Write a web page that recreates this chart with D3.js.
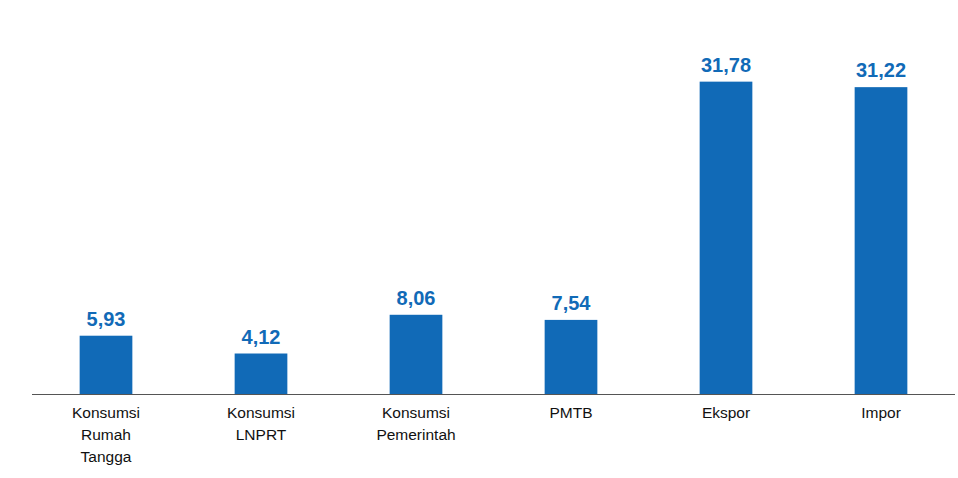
<!DOCTYPE html>
<html>
<head>
<meta charset="utf-8">
<script src="https://cdn.jsdelivr.net/npm/d3@7"></script>
<style>
	body { margin: 0; background: #fff; }
	svg { display: block; }
</style>
</head>
<body>
<svg id="chart"></svg>
<script>
// data
const categories = ['Konsumsi Rumah Tangga', 'Konsumsi LNPRT', 'Konsumsi Pemerintah', 'PMTB', 'Ekspor', 'Impor'];
const categoryLines = [['Konsumsi', 'Rumah', 'Tangga'], ['Konsumsi', 'LNPRT'], ['Konsumsi', 'Pemerintah'], ['PMTB'], ['Ekspor'], ['Impor']];
const values = [5.93, 4.12, 8.06, 7.54, 31.78, 31.22];

const width = 958;
const height = 478;
const blue = '#116ab7';

const svg = d3.select('#chart').attr('width', width).attr('height', height);

const x = d3.scaleBand()
	.domain(categories)
	.range([28.5, 958.5])
	.paddingInner(0.66)
	.paddingOuter(0.33);

const y = d3.scaleLinear()
	.domain([0, 35])
	.range([394, 50]);

// bars
svg.selectAll('rect.bar')
	.data(values)
	.enter()
	.append('rect')
	.attr('class', 'bar')
	.attr('x', (d, i) => x(categories[i]))
	.attr('y', d => y(d))
	.attr('width', x.bandwidth())
	.attr('height', d => y(0) - y(d))
	.attr('fill', blue);

// baseline
svg.append('line')
	.attr('x1', 32)
	.attr('x2', 955)
	.attr('y1', y(0) + 0.5)
	.attr('y2', y(0) + 0.5)
	.attr('stroke', '#555')
	.attr('stroke-width', 1.2);

// value labels
svg.selectAll('text.val')
	.data(values)
	.enter()
	.append('text')
	.attr('class', 'val')
	.attr('x', (d, i) => x(categories[i]) + x.bandwidth() / 2)
	.attr('y', d => y(d) - 10)
	.attr('text-anchor', 'middle')
	.style('font-family', '"Liberation Sans", Arial, sans-serif')
	.style('font-weight', 'bold')
	.style('font-size', '20px')
	.style('fill', blue)
	.text(d => d.toFixed(2).replace('.', ','));

// category labels
const cat = svg.selectAll('text.cat')
	.data(categories)
	.enter()
	.append('text')
	.attr('class', 'cat')
	.attr('text-anchor', 'middle')
	.attr('transform', d => `translate(${x(d) + x.bandwidth() / 2}, 418)`)
	.style('font-family', '"Liberation Sans", Arial, sans-serif')
	.style('font-size', '15.5px')
	.style('fill', '#111');

cat.selectAll('tspan')
	.data((d, i) => categoryLines[i])
	.enter()
	.append('tspan')
	.attr('x', 0)
	.attr('y', (d, j) => j * 22)
	.text(d => d);
</script>
</body>
</html>
